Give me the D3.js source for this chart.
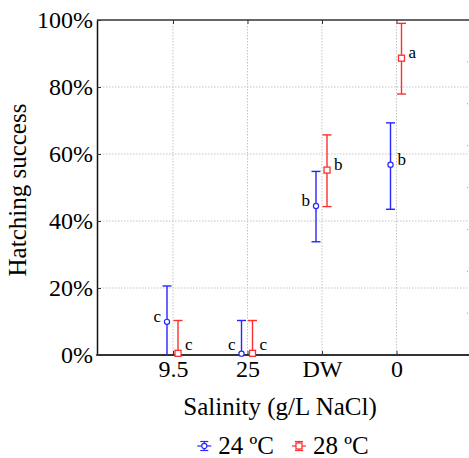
<!DOCTYPE html>
<html>
<head>
<meta charset="utf-8">
<script src="https://cdn.jsdelivr.net/npm/d3@7"></script>
<style>
  body { margin: 0; background: #fff; }
  svg { display: block; }
  svg text { font-family: "Liberation Serif", "Times New Roman", serif !important; }
  .grid line { stroke: #c4c4c4; stroke-width: 1; stroke-dasharray: 1.5,1.5; }
  .tick text { fill: #000; font-size: 24px; }
</style>
</head>
<body>
<svg id="chart" width="469" height="458"></svg>
<script>
// hatching success by salinity, two incubation temperatures
const categories = ["9.5", "25", "DW", "0"];
const temps = ["24 ºC", "28 ºC"];
const colors = ["#2626ff", "#ff2e2e"];

const mean24 = [9.9, 0.4, 44.5, 56.8];
const low24 = [0, 0, 33.8, 43.5];
const high24 = [20.6, 10.3, 54.8, 69.3];
const letters24 = ["c", "c", "b", "b"];
const side24 = ["left", "left", "left", "right"];

const mean28 = [0.5, 0.5, 55.2, 88.6];
const low28 = [0, 0, 44.3, 77.9];
const high28 = [10.3, 10.3, 65.7, 99];
const letters28 = ["c", "c", "b", "a"];
const side28 = ["right", "right", "right", "right"];

const yTicks = [0, 20, 40, 60, 80, 100];

const plot = { left: 97, right: 469, top: 20, bottom: 355 };

const svg = d3.select("#chart");

const x = d3.scaleLinear().domain([0, 5]).range([98.5, 471]);
const y = d3.scaleLinear().domain([0, 100]).range([plot.bottom, plot.top]);
const dodge = d3.scalePoint().domain(temps).range([-6, 5]);
const xPos = i => x(i + 1);

const series = [
  { name: temps[0], color: colors[0], marker: "circle", mean: mean24, low: low24, high: high24, letters: letters24, side: side24 },
  { name: temps[1], color: colors[1], marker: "square", mean: mean28, low: low28, high: high28, letters: letters28, side: side28 },
];

// grid
const grid = svg.append("g").attr("class", "grid");
grid.selectAll("line.h").data(yTicks.filter(d => d > 0 && d < 100)).join("line")
  .attr("class", "h")
  .attr("x1", plot.left).attr("x2", plot.right)
  .attr("y1", d => y(d)).attr("y2", d => y(d));
grid.selectAll("line.v").data(categories).join("line")
  .attr("class", "v")
  .attr("x1", (d, i) => xPos(i)).attr("x2", (d, i) => xPos(i))
  .attr("y1", plot.top).attr("y2", plot.bottom);

// faint ticks on the cut-off right edge
svg.append("g").selectAll("line").data(d3.range(1, 8)).join("line")
  .attr("x1", plot.right - 2).attr("x2", plot.right - 1)
  .attr("y1", d => plot.top + d * (plot.bottom - plot.top) / 8)
  .attr("y2", d => plot.top + d * (plot.bottom - plot.top) / 8)
  .attr("stroke", "#999");

// axes
const yAxis = svg.append("g")
  .attr("transform", `translate(${plot.left},0)`)
  .call(d3.axisLeft(y).tickValues(yTicks).tickFormat(d => d + "%")
    .tickSizeInner(-4).tickSizeOuter(0).tickPadding(4));
yAxis.select(".domain").attr("stroke", "#111").attr("stroke-width", 1.5);
yAxis.selectAll(".tick line").attr("stroke", "#333");

const xAxis = svg.append("g")
  .attr("transform", `translate(0,${plot.bottom})`)
  .call(d3.axisBottom(x).tickValues([1, 2, 3, 4]).tickFormat(d => categories[d - 1])
    .tickSizeInner(-4).tickSizeOuter(0).tickPadding(5));
xAxis.select(".domain").remove();
xAxis.selectAll(".tick line").attr("stroke", "#333");

const topAxis = svg.append("g")
  .attr("transform", `translate(0,${plot.top})`)
  .call(d3.axisTop(x).tickValues([1, 2, 3, 4]).tickFormat("")
    .tickSizeInner(-4).tickSizeOuter(0));
topAxis.select(".domain").remove();
topAxis.selectAll(".tick line").attr("stroke", "#333");

svg.append("line")
  .attr("x1", plot.left).attr("x2", plot.right)
  .attr("y1", plot.top).attr("y2", plot.top)
  .attr("stroke", "#333").attr("stroke-width", 1.6);
svg.append("line")
  .attr("x1", plot.left - 0.75).attr("x2", plot.right)
  .attr("y1", plot.bottom).attr("y2", plot.bottom)
  .attr("stroke", "#333").attr("stroke-width", 1.8);

// axis titles
svg.append("text")
  .attr("transform", `translate(26,190) rotate(-90)`)
  .attr("text-anchor", "middle").attr("font-size", 25)
  .text("Hatching success");
svg.append("text")
  .attr("x", 280).attr("y", 415)
  .attr("text-anchor", "middle").attr("font-size", 25)
  .text("Salinity (g/L NaCl)");

// error bars
const cap = 4.5;
const drawMarker = (g, s, cx, cy) => {
  if (s.marker === "circle") {
    g.append("circle").attr("cx", cx).attr("cy", cy).attr("r", 2.6)
      .attr("fill", "#fff").attr("stroke", s.color).attr("stroke-width", 1.2);
  } else {
    g.append("rect").attr("x", cx - 3).attr("y", cy - 3).attr("width", 6).attr("height", 6)
      .attr("fill", "#fff").attr("stroke", s.color).attr("stroke-width", 1.3);
  }
};

for (const s of series) {
  const g = svg.append("g");
  categories.forEach((c, i) => {
    const cx = xPos(i) + dodge(s.name);
    const bar = g.append("g").attr("stroke", s.color).attr("stroke-width", 1.4);
    bar.append("line").attr("x1", cx).attr("x2", cx)
      .attr("y1", y(s.low[i])).attr("y2", y(s.high[i]));
    bar.append("line").attr("x1", cx - cap).attr("x2", cx + cap)
      .attr("y1", y(s.high[i])).attr("y2", y(s.high[i]));
    if (s.low[i] > 0) {
      bar.append("line").attr("x1", cx - cap).attr("x2", cx + cap)
        .attr("y1", y(s.low[i])).attr("y2", y(s.low[i]));
    }
    drawMarker(g, s, cx, y(s.mean[i]));
    const left = s.side[i] === "left";
    g.append("text")
      .attr("x", left ? cx - 6 : cx + 7)
      .attr("y", Math.min(y(s.mean[i]), plot.bottom - 5))
      .attr("text-anchor", left ? "end" : "start")
      .attr("font-size", 17)
      .text(s.letters[i]);
  });
}

// legend
const legend = svg.append("g").attr("transform", "translate(0,454)");
const items = legend.selectAll("g").data(series).join("g");
items.append("text").attr("font-size", 25).text(d => d.name);
const widths = [];
items.each(function () {
  widths.push(this.querySelector("text").getComputedTextLength());
});
const glyphW = 14, gap = 7, spacing = 18;
const total = d3.sum(widths) + series.length * (glyphW + gap) + spacing * (series.length - 1);
let lx = 283 - total / 2;
items.each(function (d, i) {
  const g = d3.select(this).attr("transform", `translate(${lx},0)`);
  g.select("text").attr("x", glyphW + gap);
  const cx = glyphW / 2, cy = -8;
  const gl = g.append("g").attr("stroke", d.color).attr("stroke-width", 1.2);
  gl.append("line").attr("x1", cx - 4).attr("x2", cx + 4).attr("y1", cy - 4.5).attr("y2", cy - 4.5);
  gl.append("line").attr("x1", cx - 4).attr("x2", cx + 4).attr("y1", cy + 4.5).attr("y2", cy + 4.5);
  gl.append("line").attr("x1", cx).attr("x2", cx).attr("y1", cy - 4.5).attr("y2", cy + 4.5);
  gl.append("line").attr("x1", 0).attr("x2", glyphW).attr("y1", cy).attr("y2", cy);
  drawMarker(g, d, cx, cy);
  lx += glyphW + gap + widths[i] + spacing;
});
</script>
</body>
</html>
